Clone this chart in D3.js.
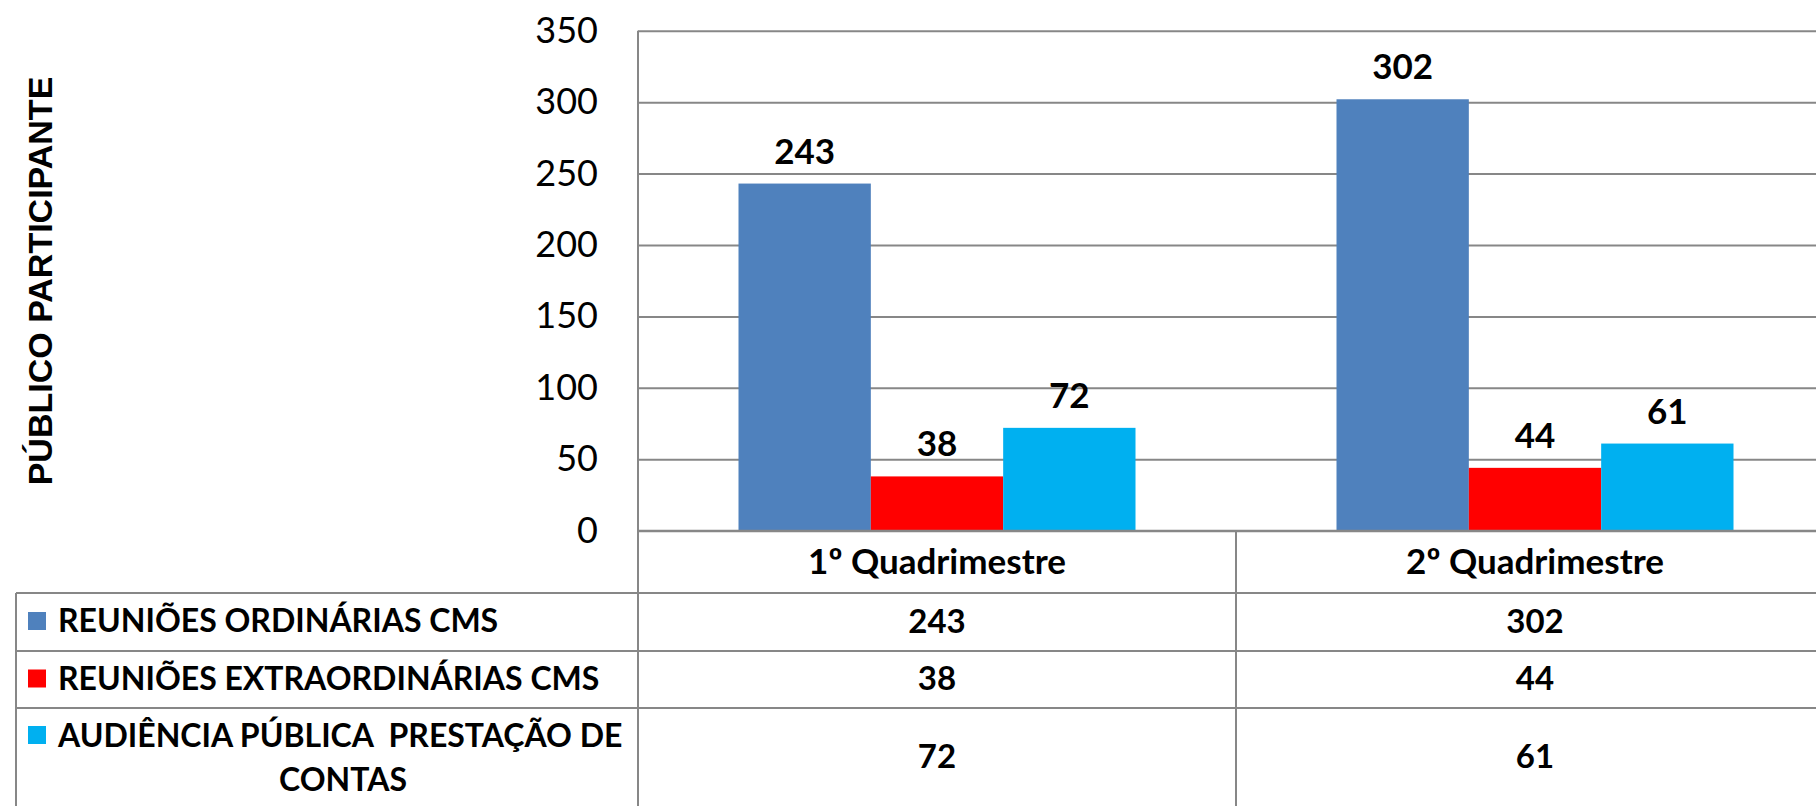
<!DOCTYPE html>
<html>
<head>
<meta charset="utf-8">
<script src="https://cdn.jsdelivr.net/npm/d3@7"></script>
<style>
  body { margin: 0; background: #fff; overflow: hidden; }
  svg { display: block; font-family: Lato, "Open Sans", sans-serif; }
</style>
</head>
<body>
<div id="chart"></div>
<script>
// data
var categories = ["1º Quadrimestre", "2º Quadrimestre"];
var seriesNames = ["REUNIÕES ORDINÁRIAS CMS", "REUNIÕES EXTRAORDINÁRIAS CMS", "AUDIÊNCIA PÚBLICA  PRESTAÇÃO DE CONTAS"];
var ordinarias = [243, 302];
var extraordinarias = [38, 44];
var audiencia = [72, 61];
var yTicks = [0, 50, 100, 150, 200, 250, 300, 350];
var colors = ["#4F81BD", "#FF0000", "#00B0F0"];
var yTitle = "PÚBLICO PARTICIPANTE";

var allSeries = [ordinarias, extraordinarias, audiencia];

var width = 1816, height = 806;
var plotLeft = 638, bandW = 598;
var gridColor = "#878787";

var svg = d3.select("#chart").append("svg")
    .attr("width", width)
    .attr("height", height);

var x = d3.scaleBand()
    .domain(categories)
    .range([plotLeft, plotLeft + bandW * categories.length]);

var xInner = d3.scaleBand()
    .domain(d3.range(allSeries.length))
    .range([100.5, bandW - 100.5]);

var y = d3.scaleLinear()
    .domain([0, 350])
    .range([530.7, 30.7]);

// gridlines + tick labels
var yAxis = svg.append("g")
    .attr("transform", "translate(" + plotLeft + ",0)")
    .call(d3.axisLeft(y).tickValues(yTicks).tickSize(-(x.range()[1] - plotLeft)).tickPadding(40));
yAxis.select(".domain").remove();
yAxis.selectAll(".tick line")
    .attr("stroke", gridColor)
    .attr("stroke-width", 2);
yAxis.selectAll(".tick text")
    .attr("fill", "#000")
    .style("font-size", "36px")
    .style("font-family", "Lato, sans-serif");

// bars
var groups = svg.append("g").selectAll("g")
    .data(categories)
    .enter().append("g")
    .attr("transform", function(d){ return "translate(" + x(d) + ",0)"; });

groups.selectAll("rect")
    .data(function(d, ci){ return allSeries.map(function(s, si){ return {si: si, v: s[ci]}; }); })
    .enter().append("rect")
    .attr("x", function(d){ return xInner(d.si); })
    .attr("width", xInner.bandwidth())
    .attr("y", function(d){ return y(d.v); })
    .attr("height", function(d){ return y(0) - y(d.v); })
    .attr("fill", function(d){ return colors[d.si]; });

groups.selectAll("text.val")
    .data(function(d, ci){ return allSeries.map(function(s, si){ return {si: si, v: s[ci]}; }); })
    .enter().append("text")
    .attr("class", "val")
    .attr("x", function(d){ return xInner(d.si) + xInner.bandwidth() / 2; })
    .attr("y", function(d){ return y(d.v) - 20; })
    .attr("text-anchor", "middle")
    .style("font-size", "35px")
    .style("font-weight", "bold")
    .text(function(d){ return d.v; });

// x axis line (zero line)
svg.append("line")
    .attr("x1", plotLeft).attr("x2", x.range()[1])
    .attr("y1", y(0)).attr("y2", y(0))
    .attr("stroke", gridColor).attr("stroke-width", 2);

// y axis title
svg.append("text")
    .attr("transform", "translate(52,281) rotate(-90)")
    .attr("text-anchor", "middle")
    .style("font-family", "'Liberation Sans', Arial, sans-serif")
    .style("font-size", "34px")
    .style("font-weight", "bold")
    .text(yTitle);

// data table
var rowLines = [593, 651, 708];
var tableLeft = 16;

svg.append("g").selectAll("line")
    .data(rowLines)
    .enter().append("line")
    .attr("x1", tableLeft).attr("x2", x.range()[1])
    .attr("y1", function(d){ return d; }).attr("y2", function(d){ return d; })
    .attr("stroke", gridColor).attr("stroke-width", 2);

svg.append("line")
    .attr("x1", tableLeft).attr("x2", tableLeft)
    .attr("y1", rowLines[0]).attr("y2", height)
    .attr("stroke", gridColor).attr("stroke-width", 2);

svg.append("line")
    .attr("x1", plotLeft).attr("x2", plotLeft)
    .attr("y1", y(350)).attr("y2", height)
    .attr("stroke", gridColor).attr("stroke-width", 2);

svg.append("g").selectAll("line")
    .data(categories.slice(1))
    .enter().append("line")
    .attr("x1", function(d){ return x(d); }).attr("x2", function(d){ return x(d); })
    .attr("y1", y(0)).attr("y2", height)
    .attr("stroke", gridColor).attr("stroke-width", 2);

// category header
svg.append("g").selectAll("text")
    .data(categories)
    .enter().append("text")
    .attr("x", function(d){ return x(d) + x.bandwidth() / 2; })
    .attr("y", 562)
    .attr("dy", "0.35em")
    .attr("text-anchor", "middle")
    .style("font-size", "35px")
    .style("font-weight", "bold")
    .text(function(d){ return d; });

// legend rows + values
var rowMid = [621, 678.5, 756];
var legendLines = [["REUNIÕES ORDINÁRIAS CMS"], ["REUNIÕES EXTRAORDINÁRIAS CMS"], ["AUDIÊNCIA PÚBLICA  PRESTAÇÃO DE", "CONTAS"]];

allSeries.forEach(function(s, si){
  svg.append("rect")
    .attr("x", 28).attr("y", si == 2 ? 726 : rowMid[si] - 9)
    .attr("width", 18).attr("height", 18)
    .attr("fill", colors[si]);

  var t = svg.append("text")
    .style("font-size", "32px")
    .style("font-weight", "bold")
    .style("white-space", "pre");
  if (si < 2) {
    t.attr("x", 58).attr("y", rowMid[si]).attr("dy", "0.35em").text(legendLines[si][0]);
  } else {
    t.attr("x", 58).attr("y", 747).text(legendLines[si][0]);
    svg.append("text")
      .attr("x", 343).attr("y", 791)
      .attr("text-anchor", "middle")
      .style("font-size", "32px")
      .style("font-weight", "bold")
      .text(legendLines[si][1]);
  }

  svg.append("g").selectAll("text")
    .data(s)
    .enter().append("text")
    .attr("x", function(d, ci){ return x(categories[ci]) + x.bandwidth() / 2; })
    .attr("y", rowMid[si])
    .attr("dy", "0.35em")
    .attr("text-anchor", "middle")
    .style("font-size", "33px")
    .style("font-weight", "bold")
    .text(function(d){ return d; });
});
</script>
</body>
</html>
